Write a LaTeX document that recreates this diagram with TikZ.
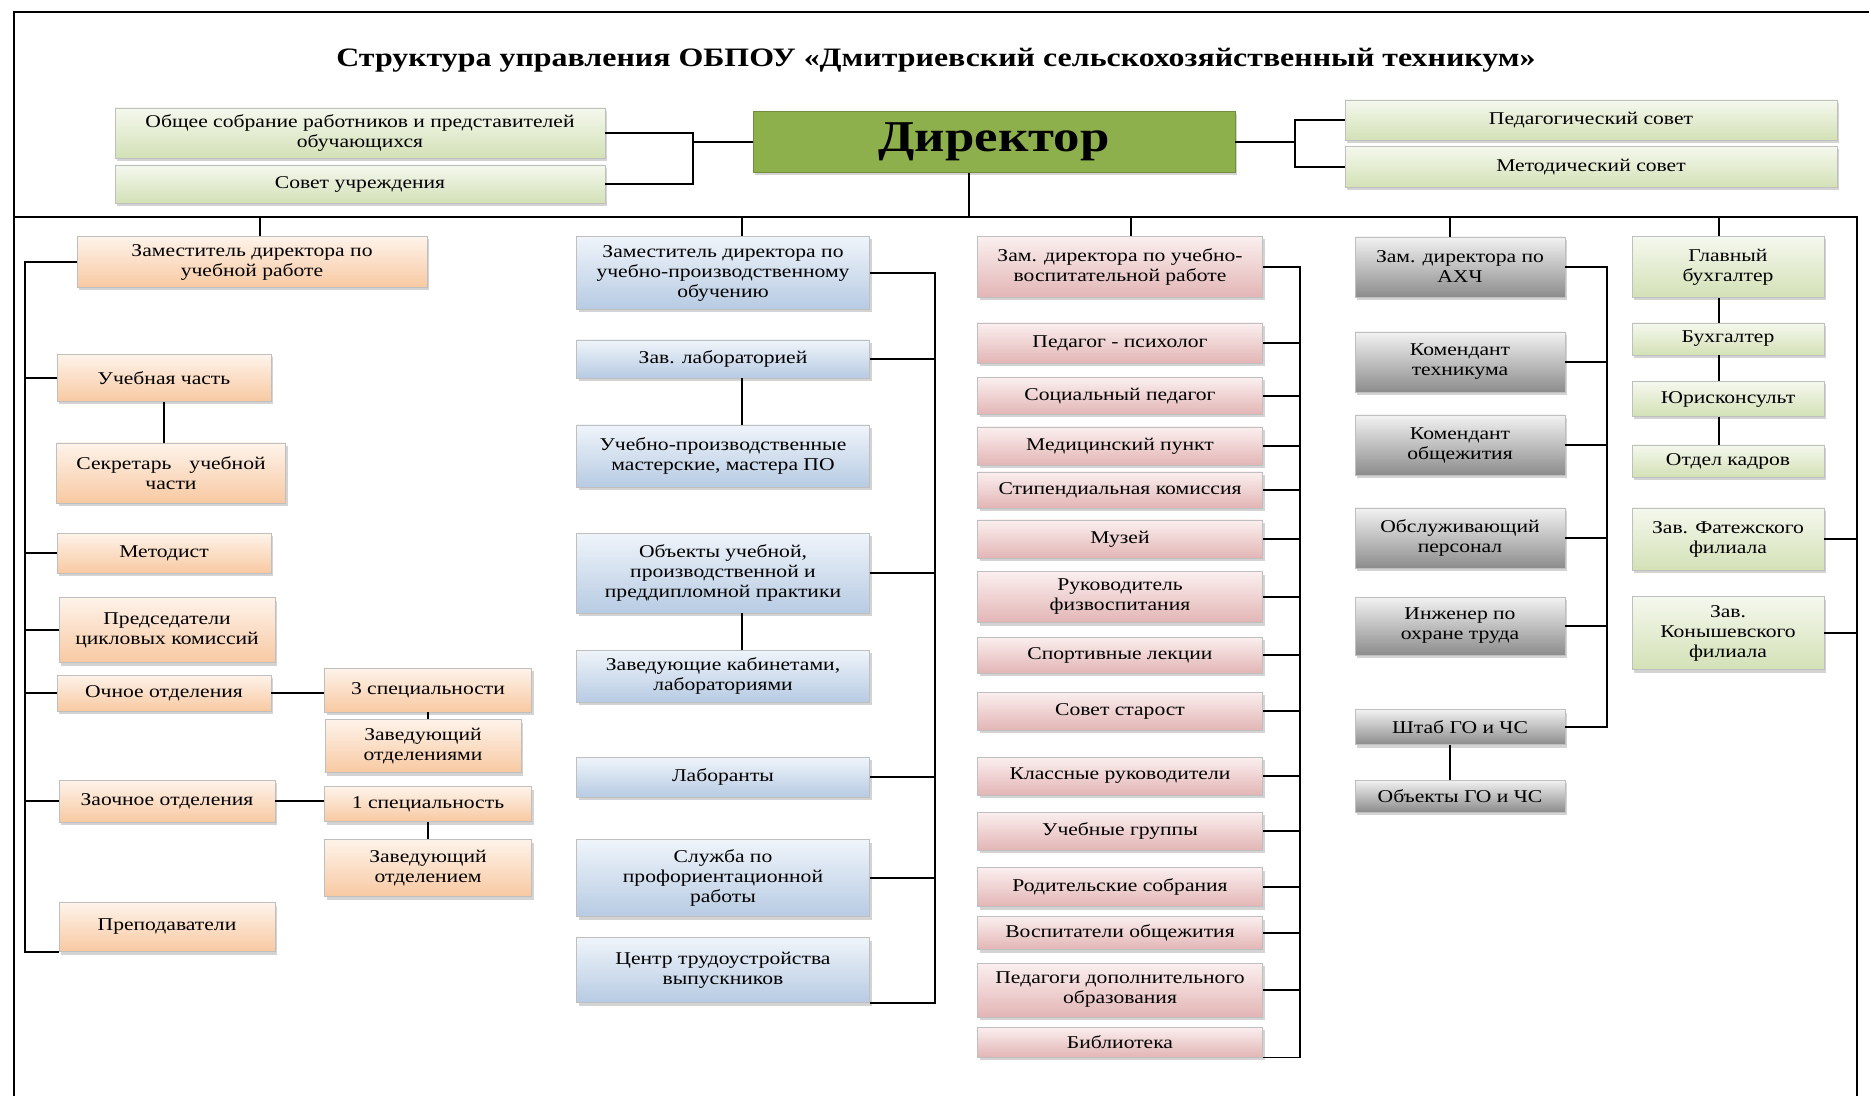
\documentclass[tikz,border=0pt]{standalone}
\usepackage{fontspec}
\setmainfont{Liberation Serif}[FakeStretch=1.2]
\usetikzlibrary{positioning,shadows}
\definecolor{orngT}{HTML}{FEF3EA}
\definecolor{orngB}{HTML}{F8C9A2}
\definecolor{bluT}{HTML}{EFF4FA}
\definecolor{bluB}{HTML}{B7CBE3}
\definecolor{pinkT}{HTML}{FBEFEF}
\definecolor{pinkB}{HTML}{E3B5B5}
\definecolor{greyT}{HTML}{F2F2F2}
\definecolor{greyB}{HTML}{8C8C8C}
\definecolor{grnT}{HTML}{F5F8EE}
\definecolor{grnB}{HTML}{D3E1B6}
\definecolor{dirgreen}{HTML}{8DB04D}
\tikzset{
  box/.style={rectangle, draw=black!25, align=center, inner sep=2pt,
              font=\fontsize{9}{10}\selectfont,
              drop shadow={shadow xshift=1pt, shadow yshift=-1.5pt, opacity=0.35, fill=black!50}},
  sz/.style 2 args={minimum width=#1*0.5pt, minimum height=#2*0.5pt},
  orangenode/.style={box, top color=orngT, bottom color=orngB},
  bluenode/.style={box, top color=bluT, bottom color=bluB},
  pinknode/.style={box, top color=pinkT, bottom color=pinkB},
  greynode/.style={box, top color=greyT, bottom color=greyB},
  greennode/.style={box, top color=grnT, bottom color=grnB},
  dirnode/.style={box, fill=dirgreen, draw=dirgreen!80!black, font=\fontsize{22}{24}\selectfont\bfseries},
  link/.style={draw=black, line width=0.75pt},
  frame/.style={draw=black, line width=1.1pt}
}
\begin{document}
\begin{tikzpicture}[x=0.5pt,y=-0.5pt]
\useasboundingbox (0,0) rectangle (1869,1096);

%Frame and title
\draw[frame] (1869,12) -- (14,12) -- (14,1096);
\node (title) at (936,60) {\fontsize{13.3}{15}\selectfont\bfseries Структура управления ОБПОУ «Дмитриевский сельскохозяйственный техникум»};

%Top nodes
\node[greennode, sz={490}{50}] (obsh)  at (360,133) {Общее собрание работников и представителей\\обучающихся};
\node[greennode, sz={490}{38}] (sovet) at (360,184) {Совет учреждения};
\node[dirnode,   sz={482}{61}] (dir)   at (994,142) {Директор};
\node[greennode, sz={492}{40}] (ped)   at (1591,120) {Педагогический совет};
\node[greennode, sz={492}{41}] (met)   at (1591,167) {Методический совет};

%Column 1
\node[orangenode, sz={350}{51}] (zam1)  at (252,262) {Заместитель директора по\\учебной работе};
\node[orangenode, sz={214}{47}] (uch)   at (164,378) {Учебная часть};
\node[orangenode, sz={229}{60}] (sekr)  at (171,473) {Секретарь\quad учебной\\части};
\node[orangenode, sz={214}{40}] (metod) at (164,553) {Методист};
\node[orangenode, sz={216}{65}] (pred)  at (167,630) {Председатели\\цикловых комиссий};
\node[orangenode, sz={214}{36}] (ochn)  at (164,693) {Очное отделения};
\node[orangenode, sz={207}{44}] (sp3)   at (428,690) {3 специальности};
\node[orangenode, sz={196}{53}] (zavo1) at (423,746) {Заведующий\\отделениями};
\node[orangenode, sz={216}{42}] (zaoch) at (167,801) {Заочное отделения};
\node[orangenode, sz={207}{35}] (sp1)   at (428,804) {1 специальность};
\node[orangenode, sz={207}{57}] (zavo2) at (428,868) {Заведующий\\отделением};
\node[orangenode, sz={216}{49}] (prep)  at (167,927) {Преподаватели};

%Column 2
\node[bluenode, sz={293}{73}] (zam2)   at (723,273) {Заместитель директора по\\учебно-производственному\\обучению};
\node[bluenode, sz={293}{38}] (zavlab) at (723,359) {Зав. лабораторией};
\node[bluenode, sz={293}{62}] (mast)   at (723,456) {Учебно-производственные\\мастерские, мастера ПО};
\node[bluenode, sz={293}{80}] (obj)    at (723,573) {Объекты учебной,\\производственной и\\преддипломной практики};
\node[bluenode, sz={293}{52}] (zavkab) at (723,676) {Заведующие кабинетами,\\лабораториями};
\node[bluenode, sz={293}{40}] (labor)  at (723,777) {Лаборанты};
\node[bluenode, sz={293}{77}] (sluzh)  at (723,878) {Служба по\\профориентационной\\работы};
\node[bluenode, sz={293}{65}] (centr)  at (723,970) {Центр трудоустройства\\выпускников};

%Column 3
\node[pinknode, sz={285}{61}] (zam3)    at (1120,267) {Зам. директора по учебно-\\воспитательной работе};
\node[pinknode, sz={285}{40}] (psych)   at (1120,343) {Педагог - психолог};
\node[pinknode, sz={285}{37}] (socp)    at (1120,396) {Социальный педагог};
\node[pinknode, sz={285}{38}] (med)     at (1120,446) {Медицинский пункт};
\node[pinknode, sz={285}{36}] (stip)    at (1120,490) {Стипендиальная комиссия};
\node[pinknode, sz={285}{38}] (muz)     at (1120,539) {Музей};
\node[pinknode, sz={285}{51}] (fiz)     at (1120,597) {Руководитель\\физвоспитания};
\node[pinknode, sz={285}{36}] (sport)   at (1120,655) {Спортивные лекции};
\node[pinknode, sz={285}{38}] (starost) at (1120,711) {Совет старост};
\node[pinknode, sz={285}{38}] (klass)   at (1120,776) {Классные руководители};
\node[pinknode, sz={285}{38}] (grupp)   at (1120,831) {Учебные группы};
\node[pinknode, sz={285}{39}] (rodit)   at (1120,887) {Родительские собрания};
\node[pinknode, sz={285}{33}] (vosp)    at (1120,933) {Воспитатели общежития};
\node[pinknode, sz={285}{54}] (dopobr)  at (1120,990) {Педагоги дополнительного\\образования};
\node[pinknode, sz={285}{30}] (bibl)    at (1120,1042) {Библиотека};

%Column 4
\node[greynode, sz={210}{60}] (zam4)  at (1460,267) {Зам. директора по\\АХЧ};
\node[greynode, sz={210}{60}] (komt)  at (1460,362) {Комендант\\техникума};
\node[greynode, sz={210}{60}] (komo)  at (1460,445) {Комендант\\общежития};
\node[greynode, sz={210}{60}] (obsl)  at (1460,538) {Обслуживающий\\персонал};
\node[greynode, sz={210}{58}] (inzh)  at (1460,626) {Инженер по\\охране труда};
\node[greynode, sz={210}{35}] (shtab) at (1460,727) {Штаб ГО и ЧС};
\node[greynode, sz={210}{32}] (objgo) at (1460,796) {Объекты ГО и ЧС};

%Column 5
\node[greennode, sz={192}{61}] (glbuh) at (1728,267) {Главный\\бухгалтер};
\node[greennode, sz={192}{32}] (buh)   at (1728,339) {Бухгалтер};
\node[greennode, sz={192}{35}] (yur)   at (1728,399) {Юрисконсульт};
\node[greennode, sz={192}{32}] (kadr)  at (1728,461) {Отдел кадров};
\node[greennode, sz={192}{62}] (fat)   at (1728,539) {Зав. Фатежского\\филиала};
\node[greennode, sz={192}{73}] (kon)   at (1728,633) {Зав.\\Конышевского\\филиала};

%Helper coordinates
\coordinate (elL) at (693,0);
\coordinate (elR) at (1295,0);
\coordinate (busL) at (14,217);
\coordinate (busR) at (1857,217);
\coordinate (busRB) at (1857,1096);
\coordinate (ax0) at (969,217);
\coordinate (ax1) at (260,217);
\coordinate (ax2) at (742,217);
\coordinate (ax3) at (1131,217);
\coordinate (ax4) at (1450,217);
\coordinate (ax5) at (1719,217);
\coordinate (lb1) at (25,0);
\coordinate (lb2) at (935,0);
\coordinate (lb3) at (1300,0);
\coordinate (lb4) at (1607,0);

%Lines top
\draw[link] (obsh.east) -- (obsh.east -| elL) -- (sovet.east -| elL) -- (sovet.east);
\draw[link] (elL |- dir.west) -- (dir.west);
\draw[link] (ped.west) -- (ped.west -| elR) -- (met.west -| elR) -- (met.west);
\draw[link] (dir.east) -- (dir.east -| elR);
\draw[link] (ax0 |- dir.south) -- (ax0);
\draw[link] (busL) -- (busR) -- (busRB);
\draw[link] (ax1) -- (ax1 |- zam1.north);
\draw[link] (ax2) -- (ax2 |- zam2.north);
\draw[link] (ax3) -- (ax3 |- zam3.north);
\draw[link] (ax4) -- (ax4 |- zam4.north);
\draw[link] (ax5) -- (ax5 |- glbuh.north);

%Lines column 1
\draw[link] (zam1.west) -| (lb1 |- prep.south) -- (prep.south west);
\draw[link] (uch.west) -- (uch.west -| lb1);
\draw[link] (metod.west) -- (metod.west -| lb1);
\draw[link] (pred.west) -- (pred.west -| lb1);
\draw[link] (ochn.west) -- (ochn.west -| lb1);
\draw[link] (zaoch.west) -- (zaoch.west -| lb1);
\draw[link] (uch.south) -- (uch.south |- sekr.north);
\draw[link] (ochn.east) -- (ochn.east -| sp3.west);
\draw[link] (sp3.south) -- (sp3.south |- zavo1.north);
\draw[link] (zaoch.east) -- (zaoch.east -| sp1.west);
\draw[link] (sp1.south) -- (sp1.south |- zavo2.north);

%Lines column 2
\draw[link] (zam2.east) -| (lb2 |- centr.south) -- (centr.south east);
\draw[link] (zavlab.east) -- (zavlab.east -| lb2);
\draw[link] (obj.east) -- (obj.east -| lb2);
\draw[link] (labor.east) -- (labor.east -| lb2);
\draw[link] (sluzh.east) -- (sluzh.east -| lb2);
\draw[link] (ax2 |- zavlab.south) -- (ax2 |- mast.north);
\draw[link] (ax2 |- obj.south) -- (ax2 |- zavkab.north);

%Lines column 3
\draw[link] (zam3.east) -| (lb3 |- bibl.south) -- (bibl.south east);
\draw[link] (psych.east) -- (psych.east -| lb3);
\draw[link] (socp.east) -- (socp.east -| lb3);
\draw[link] (med.east) -- (med.east -| lb3);
\draw[link] (stip.east) -- (stip.east -| lb3);
\draw[link] (muz.east) -- (muz.east -| lb3);
\draw[link] (fiz.east) -- (fiz.east -| lb3);
\draw[link] (sport.east) -- (sport.east -| lb3);
\draw[link] (starost.east) -- (starost.east -| lb3);
\draw[link] (klass.east) -- (klass.east -| lb3);
\draw[link] (grupp.east) -- (grupp.east -| lb3);
\draw[link] (rodit.east) -- (rodit.east -| lb3);
\draw[link] (vosp.east) -- (vosp.east -| lb3);
\draw[link] (dopobr.east) -- (dopobr.east -| lb3);

%Lines column 4
\draw[link] (zam4.east) -| (lb4 |- shtab.east) -- (shtab.east);
\draw[link] (komt.east) -- (komt.east -| lb4);
\draw[link] (komo.east) -- (komo.east -| lb4);
\draw[link] (obsl.east) -- (obsl.east -| lb4);
\draw[link] (inzh.east) -- (inzh.east -| lb4);
\draw[link] (ax4 |- shtab.south) -- (ax4 |- objgo.north);

%Lines column 5
\draw[link] (ax5 |- glbuh.south) -- (ax5 |- buh.north);
\draw[link] (ax5 |- buh.south) -- (ax5 |- yur.north);
\draw[link] (ax5 |- yur.south) -- (ax5 |- kadr.north);
\draw[link] (fat.east) -- (fat.east -| busR);
\draw[link] (kon.east) -- (kon.east -| busR);

\end{tikzpicture}
\end{document}
